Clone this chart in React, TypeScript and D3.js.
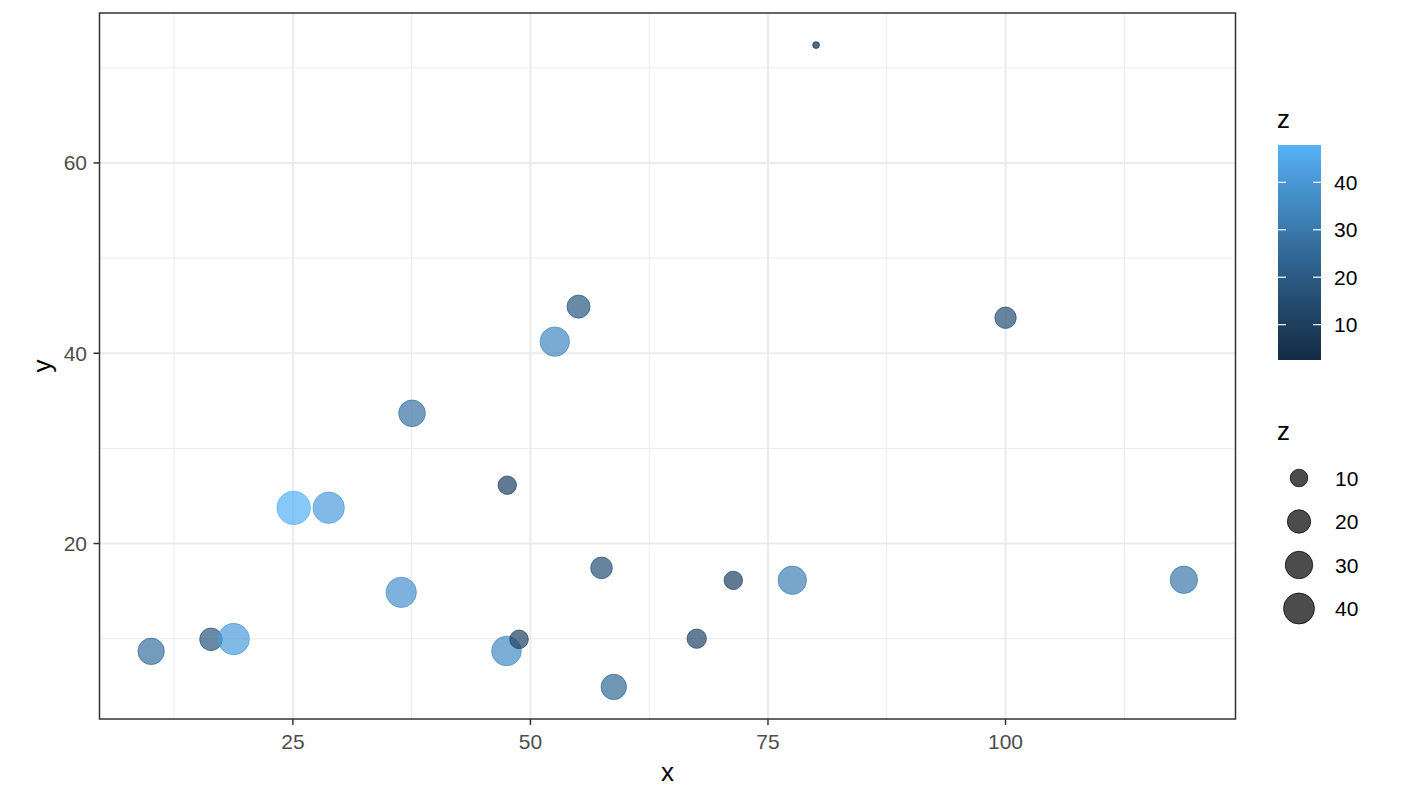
import React from "react";
import * as d3 from "d3";

const xValues = [80.06, 100.0, 55.06, 52.56, 37.54, 47.56, 25.08, 28.77, 36.4, 57.48, 71.35, 77.56, 118.77, 10.08, 16.38, 18.77, 47.48, 48.8, 67.5, 58.77];
const yValues = [72.39, 43.73, 44.9, 41.22, 33.69, 26.13, 23.75, 23.76, 14.87, 17.44, 16.13, 16.14, 16.19, 8.67, 9.93, 9.96, 8.71, 9.93, 10.0, 4.93];
const zValues = [2.55, 16.2, 19.4, 35.3, 27.7, 11.2, 47.87, 41.3, 38.2, 16.6, 11.2, 32.4, 29.7, 27.2, 18.5, 41.3, 35.9, 11.5, 12.7, 24.7];

const xTicks = [25, 50, 75, 100];
const xMinorTicks = [12.5, 37.5, 62.5, 87.5, 112.5];
const yTicks = [20, 40, 60];
const yMinorTicks = [10, 30, 50, 70];
const legendTicks = [10, 20, 30, 40];

const W = 1402;
const H = 800;
const panel = { left: 99.5, right: 1235.5, top: 13, bottom: 719 };
const FONT = "'Liberation Sans', Arial, sans-serif";

function expand(ext: [number, number]): [number, number] {
  const pad = (ext[1] - ext[0]) * 0.05;
  return [ext[0] - pad, ext[1] + pad];
}

export default function App() {
  const xExt = d3.extent(xValues) as [number, number];
  const yExt = d3.extent(yValues) as [number, number];
  const zExt = d3.extent(zValues) as [number, number];

  const x = d3.scaleLinear().domain(expand(xExt)).range([panel.left, panel.right]);
  const y = d3.scaleLinear().domain(expand(yExt)).range([panel.bottom, panel.top]);
  const color = d3
    .scaleLinear<string>()
    .domain(zExt)
    .range(["#132B43", "#56B1F7"])
    .interpolate(d3.interpolateLab);
  const rScale = (z: number) => 3.4 + 13.3 * Math.sqrt((z - zExt[0]) / (zExt[1] - zExt[0]));

  const cb = { left: 1278, right: 1321, top: 145, bottom: 360 };
  const cbY = d3.scaleLinear().domain(zExt).range([cb.bottom, cb.top]);
  const stops = d3.range(0, 1.0001, 0.05);

  const sizeKeyY0 = 478;
  const sizeKeyStep = 43.5;
  const keyX = 1299;

  const points = xValues.map((xv, i) => ({ x: xv, y: yValues[i], z: zValues[i] }));

  return (
    <svg
      width={W}
      height={H}
      style={{ position: "absolute", left: 0, top: 0, background: "#fff" }}
      fontFamily={FONT}
    >
      <defs>
        <linearGradient id="cbgrad" x1="0" y1="1" x2="0" y2="0">
          {stops.map((t) => (
            <stop key={t} offset={t} stopColor={color(zExt[0] + t * (zExt[1] - zExt[0]))} />
          ))}
        </linearGradient>
        <clipPath id="panelClip">
          <rect x={panel.left} y={panel.top} width={panel.right - panel.left} height={panel.bottom - panel.top} />
        </clipPath>
      </defs>
      <rect x={0} y={0} width={W} height={H} fill="#fff" />
      <g>
        {xMinorTicks.map((t) => (
          <line key={"xm" + t} x1={x(t)} x2={x(t)} y1={panel.top} y2={panel.bottom} stroke="#EBEBEB" strokeWidth={1} />
        ))}
        {yMinorTicks.map((t) => (
          <line key={"ym" + t} y1={y(t)} y2={y(t)} x1={panel.left} x2={panel.right} stroke="#EBEBEB" strokeWidth={1} />
        ))}
        {xTicks.map((t) => (
          <line key={"xM" + t} x1={x(t)} x2={x(t)} y1={panel.top} y2={panel.bottom} stroke="#EBEBEB" strokeWidth={2} />
        ))}
        {yTicks.map((t) => (
          <line key={"yM" + t} y1={y(t)} y2={y(t)} x1={panel.left} x2={panel.right} stroke="#EBEBEB" strokeWidth={2} />
        ))}
      </g>
      <g clipPath="url(#panelClip)">
        {points.map((p, i) => (
          <circle
            key={i}
            cx={x(p.x)}
            cy={y(p.y)}
            r={rScale(p.z)}
            fill={color(p.z)}
            fillOpacity={0.7}
            stroke={color(p.z)}
            strokeOpacity={0.7}
            strokeWidth={1}
          />
        ))}
      </g>
      <rect
        x={panel.left}
        y={panel.top}
        width={panel.right - panel.left}
        height={panel.bottom - panel.top}
        fill="none"
        stroke="#333333"
        strokeWidth={1.5}
      />
      {xTicks.map((t) => (
        <g key={"xt" + t}>
          <line x1={x(t)} x2={x(t)} y1={panel.bottom} y2={panel.bottom + 6} stroke="#333333" strokeWidth={1.5} />
          <text x={x(t)} y={748.5} textAnchor="middle" fontSize={21} fill="#4D4D4D">
            {t}
          </text>
        </g>
      ))}
      {yTicks.map((t) => (
        <g key={"yt" + t}>
          <line x1={panel.left - 6} x2={panel.left} y1={y(t)} y2={y(t)} stroke="#333333" strokeWidth={1.5} />
          <text x={87} y={y(t) + 7.5} textAnchor="end" fontSize={21} fill="#4D4D4D">
            {t}
          </text>
        </g>
      ))}
      <text x={(panel.left + panel.right) / 2} y={781} textAnchor="middle" fontSize={26} fill="#000">
        x
      </text>
      <text
        transform={`translate(51, ${(panel.top + panel.bottom) / 2}) rotate(-90)`}
        textAnchor="middle"
        fontSize={26}
        fill="#000"
      >
        y
      </text>
      <text x={1277} y={128} fontSize={26} fill="#000">
        z
      </text>
      <rect x={cb.left} y={cb.top} width={cb.right - cb.left} height={cb.bottom - cb.top} fill="url(#cbgrad)" />
      {legendTicks.map((t) => (
        <g key={"cb" + t}>
          <line x1={cb.left} x2={cb.left + 8} y1={cbY(t)} y2={cbY(t)} stroke="#fff" strokeWidth={1.2} />
          <line x1={cb.right - 8} x2={cb.right} y1={cbY(t)} y2={cbY(t)} stroke="#fff" strokeWidth={1.2} />
          <text x={1334} y={cbY(t) + 7.5} fontSize={21} fill="#000">
            {t}
          </text>
        </g>
      ))}
      <text x={1277} y={440} fontSize={26} fill="#000">
        z
      </text>
      {legendTicks.map((t, i) => (
        <g key={"sz" + t}>
          <circle
            cx={keyX}
            cy={sizeKeyY0 + i * sizeKeyStep}
            r={rScale(t)}
            fill="#000"
            fillOpacity={0.7}
            stroke="#000"
            strokeOpacity={0.7}
            strokeWidth={1}
          />
          <text x={1335} y={sizeKeyY0 + i * sizeKeyStep + 7.5} fontSize={21} fill="#000">
            {t}
          </text>
        </g>
      ))}
    </svg>
  );
}
